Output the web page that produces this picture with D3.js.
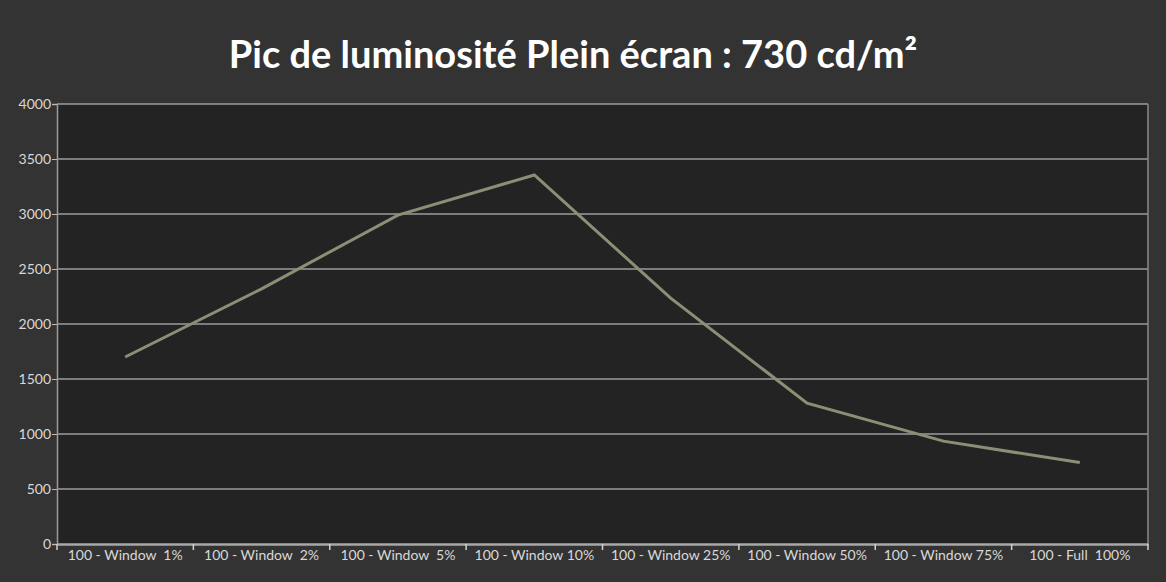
<html>
<head>
<script src="https://d3js.org/d3.v7.min.js"></script>
<style>
  body { margin: 0; background: #333333; }
  .tick text { white-space: pre; }
</style>
</head>
<body>
<svg class="chart" width="1166" height="582"></svg>
<script>
// chart data
const categories = ["100 - Window  1%", "100 - Window  2%", "100 - Window  5%", "100 - Window 10%",
                    "100 - Window 25%", "100 - Window 50%", "100 - Window 75%", "100 - Full  100%"];
const luminance = [1700, 2320, 2990, 3355, 2235, 1280, 935, 740];
const yTicks = [0, 500, 1000, 1500, 2000, 2500, 3000, 3500, 4000];
const title = "Pic de luminosité Plein écran : 730 cd/m²";

const svg = d3.select(".chart");
const margin = {left: 57, right: 18, top: 104, bottom: 38};
const w = 1166 - margin.left - margin.right;
const h = 582 - margin.top - margin.bottom;

svg.append("rect").attr("width", 1166).attr("height", 582).attr("fill", "#333333");

svg.append("text")
   .attr("x", 573).attr("y", 68)
   .attr("text-anchor", "middle")
   .attr("font-family", "Lato, sans-serif")
   .attr("font-weight", "bold")
   .attr("font-size", 38)
   .attr("fill", "#ffffff")
   .text(title);

const g = svg.append("g").attr("transform", `translate(${margin.left},${margin.top})`);

const x = d3.scaleBand().domain(categories).range([0, w]);
const y = d3.scaleLinear().domain([0, 4000]).range([h, 0]);

g.append("rect").attr("width", w).attr("height", h).attr("fill", "#232323");

// gridlines
g.selectAll(".grid").data(yTicks.slice(1)).enter().append("line")
  .attr("x1", 0).attr("x2", w)
  .attr("y1", d => y(d)).attr("y2", d => y(d))
  .attr("stroke", "#9c9c9c").attr("stroke-width", 1.5);

// right border
g.append("line").attr("x1", w).attr("x2", w).attr("y1", 0).attr("y2", h)
  .attr("stroke", "#8a8a8a").attr("stroke-width", 1.5);

// y axis
const yAxis = g.append("g")
  .call(d3.axisLeft(y).tickValues(yTicks).tickFormat(d3.format("d")).tickSize(5).tickPadding(1));
yAxis.select(".domain").attr("stroke", "#9c9c9c").attr("stroke-width", 1.5);
yAxis.selectAll(".tick line").attr("stroke", "#bbbbbb");
yAxis.selectAll(".tick text")
  .attr("fill", "#d8d8d8").attr("font-size", 14).attr("font-family", "Lato, sans-serif");

// x axis
const xAxis = g.append("g").attr("transform", `translate(0,${h})`)
  .call(d3.axisBottom(x).tickSize(0).tickPadding(6));
xAxis.select(".domain").attr("stroke", "#a8a8a8").attr("stroke-width", 2.5);
xAxis.selectAll(".tick text")
  .attr("fill", "#d8d8d8").attr("font-size", 14).attr("font-family", "Lato, sans-serif");
xAxis.selectAll(".sep").data(categories.concat(["end"])).enter().append("line")
  .attr("x1", (d, i) => i * x.bandwidth()).attr("x2", (d, i) => i * x.bandwidth())
  .attr("y1", 0).attr("y2", 6)
  .attr("stroke", "#d0d0d0").attr("stroke-width", 1.5);

// line
const line = d3.line()
  .x((d, i) => x(categories[i]) + x.bandwidth() / 2)
  .y(d => y(d));
g.append("path").datum(luminance)
  .attr("d", line)
  .attr("fill", "none")
  .attr("stroke", "#8e8e76")
  .attr("stroke-width", 3);
</script>
</body>
</html>
